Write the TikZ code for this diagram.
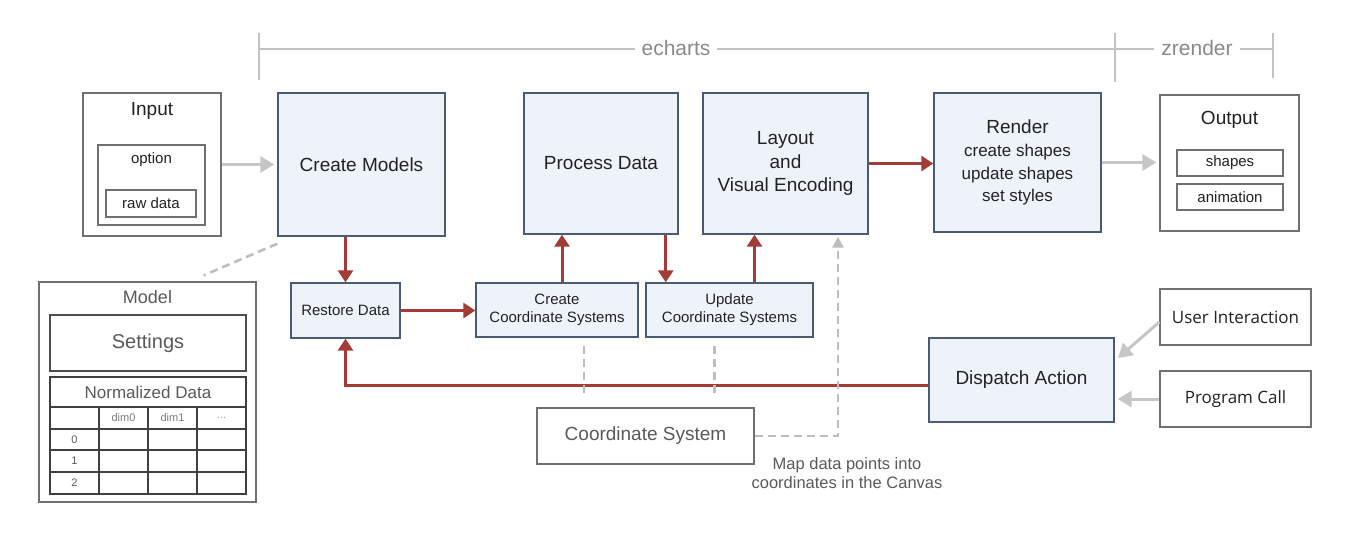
\documentclass[tikz,border=0pt]{standalone}
\usepackage{fontspec}
\setmainfont{Liberation Sans}
\newfontfamily\altfont{Open Sans}
\usetikzlibrary{arrows.meta,calc}
\definecolor{boxfill}{HTML}{EEF3F9}
\definecolor{boxline}{HTML}{4A5B72}
\definecolor{arrred}{HTML}{A33B37}
\definecolor{arrgray}{HTML}{C6C6C6}
\definecolor{dashgray}{HTML}{BEBEBE}
\definecolor{brgray}{HTML}{C2C2C2}
\definecolor{brtext}{HTML}{8A8A8A}
\definecolor{wline}{HTML}{707070}
\definecolor{txt}{HTML}{222222}
\definecolor{mtxt}{HTML}{5A5A5A}
\newcommand{\fsz}[1]{\fontsize{#1}{\dimexpr#1pt*6/5\relax}\selectfont}
\tikzset{
  bluebox/.style={draw=boxline, fill=boxfill, line width=1.4pt, inner sep=0pt, align=center, text=txt},
  whitebox/.style={draw=wline, fill=white, line width=1.3pt, inner sep=0pt, align=center, text=txt},
  lbl/.style={inner sep=0pt, align=center, text=txt},
  redarrow/.style={draw=arrred, line width=3pt, -{Triangle[length=12pt,width=15pt]}},
  grayarrow/.style={draw=arrgray, line width=3pt, -{Triangle[length=14pt,width=16pt]}, shorten >=3pt},
  graydash/.style={draw=dashgray, line width=2.6pt, dash pattern=on 8pt off 5pt},
  bracket/.style={draw=brgray, line width=1.6pt},
  tline/.style={draw=black!75, line width=1.3pt}
}
\begin{document}
\begin{tikzpicture}[x=1pt,y=-1pt]
\useasboundingbox (0,0) rectangle (1352,535);
% bracket
\draw[bracket] (259,33) -- (259,80);
\draw[bracket] (1115,33) -- (1115,82);
\draw[bracket] (1273,33) -- (1273,78);
\draw[bracket] (259,49) -- (1273,49);
\node[lbl, fill=white, inner xsep=7pt, text=brtext, font=\fsz{21}] (ech) at (676,48) {echarts};
\node[lbl, fill=white, inner xsep=7pt, text=brtext, font=\fsz{21}] (zr) at (1197,48) {zrender};
% Input
\node[whitebox, minimum width=138pt, minimum height=143pt] (in) at (152,164.5) {};
\node[lbl, font=\fsz{19}] (inT) at (152,111) {Input};
\node[whitebox, minimum width=107pt, minimum height=80pt] (opt) at (151.5,185) {};
\node[lbl, font=\fsz{15}] (optT) at (151.5,160) {option};
\node[whitebox, minimum width=90pt, minimum height=27pt, font=\fsz{15}] (raw) at (151,203.5) {raw data};
% main boxes
\node[bluebox, minimum width=167pt, minimum height=143pt, font=\fsz{19}] (cm) at (361.5,164.5) {Create Models};
\node[bluebox, minimum width=154pt, minimum height=141pt, font=\fsz{19}] (pd) at (601,163.5) {Process Data};
\node[bluebox, minimum width=165pt, minimum height=141pt, font=\fsz{19}] (lay) at (785.5,163.5) {Layout\\[1pt]and\\[1pt]Visual Encoding};
\node[bluebox, minimum width=167pt, minimum height=139pt, font=\fsz{19}] (ren) at (1017.5,162.5) {Render\\{\fsz{17}create shapes}\\{\fsz{17}update shapes}\\{\fsz{17}set styles}};
% Output
\node[whitebox, minimum width=139pt, minimum height=136pt] (out) at (1229.5,163) {};
\node[lbl, font=\fsz{19}] (outT) at (1229.5,120) {Output};
\node[whitebox, minimum width=106pt, minimum height=26pt, font=\fsz{15}] (shp) at (1230,163) {shapes};
\node[whitebox, minimum width=106pt, minimum height=26pt, font=\fsz{15}] (ani) at (1230,197) {animation};
% second row
\node[bluebox, minimum width=109pt, minimum height=55pt, font=\fsz{15}] (rd) at (345.5,310.5) {Restore Data};
\node[bluebox, minimum width=162pt, minimum height=54pt, font=\fsz{15}] (ccs) at (557,310) {Create\\Coordinate Systems};
\node[bluebox, minimum width=167pt, minimum height=54pt, font=\fsz{15}] (ucs) at (729.5,310) {Update\\Coordinate Systems};
\node[bluebox, minimum width=185pt, minimum height=84pt, font=\fsz{19}] (da) at (1021.5,380) {Dispatch Action};
\node[whitebox, minimum width=151pt, minimum height=56pt, font={\altfont\fsz{17}}] (ui) at (1235.5,317) {User Interaction};
\node[whitebox, minimum width=151pt, minimum height=56pt, font={\altfont\fsz{17}}] (pc) at (1235.5,399) {Program Call};
\node[whitebox, minimum width=217pt, minimum height=56pt, font=\fsz{19}, text=mtxt] (cs) at (645.5,436) {Coordinate System};
\node[lbl, font=\fsz{16.5}, text=mtxt] (map) at (847,473) {Map data points into\\coordinates in the Canvas};
% Model
\node[whitebox, minimum width=217pt, minimum height=220pt] (model) at (147.5,392) {};
\node[lbl, font=\fsz{18}, text=mtxt] (modT) at (147.5,297) {Model};
\node[whitebox, draw=black!70, minimum width=196pt, minimum height=56pt, font=\fsz{20}, text=mtxt] (set) at (148,343) {Settings};
\draw[tline] (50,377) rectangle (246,494);
\foreach \yy in {407,429,450,472} \draw[tline] (50,\yy) -- (246,\yy);
\foreach \xx in {99,148,197} \draw[tline] (\xx,407) -- (\xx,494);
\node[lbl, font=\fsz{17}, text=mtxt] (nd) at (148,392) {Normalized Data};
\node[lbl, font=\fsz{11}, text=mtxt!80] (d0) at (123.5,418) {dim0};
\node[lbl, font=\fsz{11}, text=mtxt!80] (d1) at (172.5,418) {dim1};
\node[lbl, font=\fsz{11}, text=mtxt!60] (dd) at (221.5,418) {...};
\node[lbl, font=\fsz{11}, text=mtxt] (r0) at (74.5,439.5) {0};
\node[lbl, font=\fsz{11}, text=mtxt] (r1) at (74.5,461) {1};
\node[lbl, font=\fsz{11}, text=mtxt] (r2) at (74.5,483) {2};
% gray arrows
\draw[grayarrow] (in.east) -- (in.east -| cm.west);
\draw[grayarrow] (ren.east) -- (ren.east -| out.west);
\draw[grayarrow] ([yshift=-5pt]ui.west) -- ([xshift=1pt,yshift=20pt]da.east);
\draw[grayarrow] (pc.west) -- (da.east |- pc.west);
% red arrows
\draw[redarrow] (cm.south -| rd.north) -- (rd.north);
\draw[redarrow] (rd.east) -- (rd.east -| ccs.west);
\draw[redarrow] ([xshift=5pt]ccs.north) -- ([xshift=5pt]ccs.north |- pd.south);
\draw[redarrow] ([xshift=-13pt]pd.south east) -- ([xshift=-13pt]pd.south east |- ucs.north);
\draw[redarrow] ([xshift=-31pt]lay.south |- ucs.north) -- ([xshift=-31pt]lay.south);
\draw[redarrow] (lay.east) -- (lay.east -| ren.west);
\draw[redarrow] ([yshift=-5pt]da.west) -- ([yshift=-5pt]da.west -| rd.south) -- (rd.south);
% dashed
\draw[graydash] ([yshift=-7pt]cm.south west) -- ([xshift=-53pt,yshift=6pt]model.north east);
\draw[graydash] ([xshift=27pt,yshift=-8pt]ccs.south) -- ([xshift=27pt,yshift=10pt]ccs.south |- cs.north);
\draw[graydash] ([xshift=-15pt,yshift=-8pt]ucs.south) -- ([xshift=-15pt,yshift=10pt]ucs.south |- cs.north);
\coordinate (corner) at ([xshift=52.5pt]lay.south |- cs.east);
\draw[graydash, line width=2.2pt, -{Triangle[length=11pt,width=11pt]}] (cs.east) -- (corner) -- ([xshift=52.5pt,yshift=-2pt]lay.south);
\end{tikzpicture}
\end{document}
